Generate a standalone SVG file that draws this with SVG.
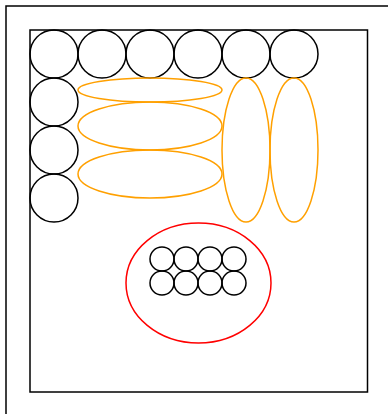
<svg xmlns="http://www.w3.org/2000/svg" width="388" height="414" viewBox="0 0 388 414">
<style>
.b{fill:none;stroke:#000;stroke-width:1.5}
.o{fill:none;stroke:#ffa000;stroke-width:1.5}
.r{fill:none;stroke:#ff0000;stroke-width:1.5}
</style>
<rect width="388" height="414" fill="#fff"/>
<g id="outer"><rect class="b" x="6" y="6" width="400" height="420"/></g>
<g id="inner"><rect class="b" x="30" y="30" width="337.5" height="362"/></g>
<g id="top-circles">
<circle class="b" cx="54" cy="54" r="24"/>
<circle class="b" cx="102" cy="54" r="24"/>
<circle class="b" cx="150" cy="54" r="24"/>
<circle class="b" cx="198" cy="54" r="24"/>
<circle class="b" cx="246" cy="54" r="24"/>
<circle class="b" cx="294" cy="54" r="24"/>
</g>
<g id="left-circles">
<circle class="b" cx="54" cy="102" r="24"/>
<circle class="b" cx="54" cy="150" r="24"/>
<circle class="b" cx="54" cy="198" r="24"/>
</g>
<g id="orange-ellipses">
<ellipse class="o" cx="150" cy="90" rx="72" ry="12"/>
<ellipse class="o" cx="150" cy="126" rx="72" ry="24"/>
<ellipse class="o" cx="150" cy="174" rx="72" ry="24"/>
<ellipse class="o" cx="246" cy="150" rx="24" ry="72"/>
<ellipse class="o" cx="294" cy="150" rx="24" ry="72"/>
</g>
<g id="red-ellipse"><ellipse class="r" cx="198.5" cy="283" rx="72.5" ry="60"/></g>
<g id="small-circles">
<circle class="b" cx="162" cy="259" r="12"/>
<circle class="b" cx="186" cy="259" r="12"/>
<circle class="b" cx="210" cy="259" r="12"/>
<circle class="b" cx="234" cy="259" r="12"/>
<circle class="b" cx="162" cy="283" r="12"/>
<circle class="b" cx="186" cy="283" r="12"/>
<circle class="b" cx="210" cy="283" r="12"/>
<circle class="b" cx="234" cy="283" r="12"/>
</g>
<g id="connectors"/>
</svg>
